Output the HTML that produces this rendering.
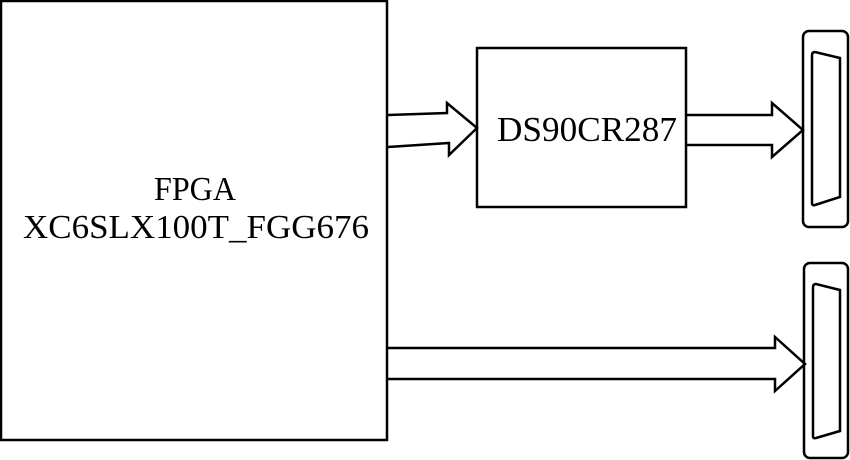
<!DOCTYPE html>
<html><head><style>
html,body{margin:0;padding:0;background:#fff;width:850px;height:460px;overflow:hidden}
svg{display:block}
text{font-family:"Liberation Serif",serif;fill:#000}
</style></head><body>
<svg width="850" height="460" viewBox="0 0 850 460" xmlns="http://www.w3.org/2000/svg">
<g fill="none" stroke="#000" stroke-width="2.5" stroke-linejoin="miter">
<rect x="1" y="1" width="386" height="439"/>
<rect x="477" y="48" width="209" height="159"/>
<path d="M388,115 L447,113 L447,103 L477,128 L449,155 L449,143 L388,147"/>
<path d="M686,115 L772,115 L772,103 L803,130 L772,157 L772,145 L686,145"/>
<path d="M388,348 L775,348 L775,337 L805,364 L775,391 L775,379 L388,379"/>
<rect x="803" y="31" width="45" height="196" rx="6"/>
<path d="M812,55 Q812,52 815,52 L840,58 L840,197 L815,205 Q812,206 812,203 Z"/>
<rect x="804" y="263" width="44" height="195" rx="6"/>
<path d="M813,287 Q813,284 816,284 L840,290 L840,431 L816,438 Q813,439 813,436 Z"/>
</g>
<text x="154" y="200" font-size="34" textLength="82" lengthAdjust="spacingAndGlyphs">FPGA</text>
<text x="23" y="238" font-size="34" textLength="346" lengthAdjust="spacingAndGlyphs">XC6SLX100T_FGG676</text>
<text x="497" y="141" font-size="35" textLength="180" lengthAdjust="spacingAndGlyphs">DS90CR287</text>
</svg>
</body></html>
